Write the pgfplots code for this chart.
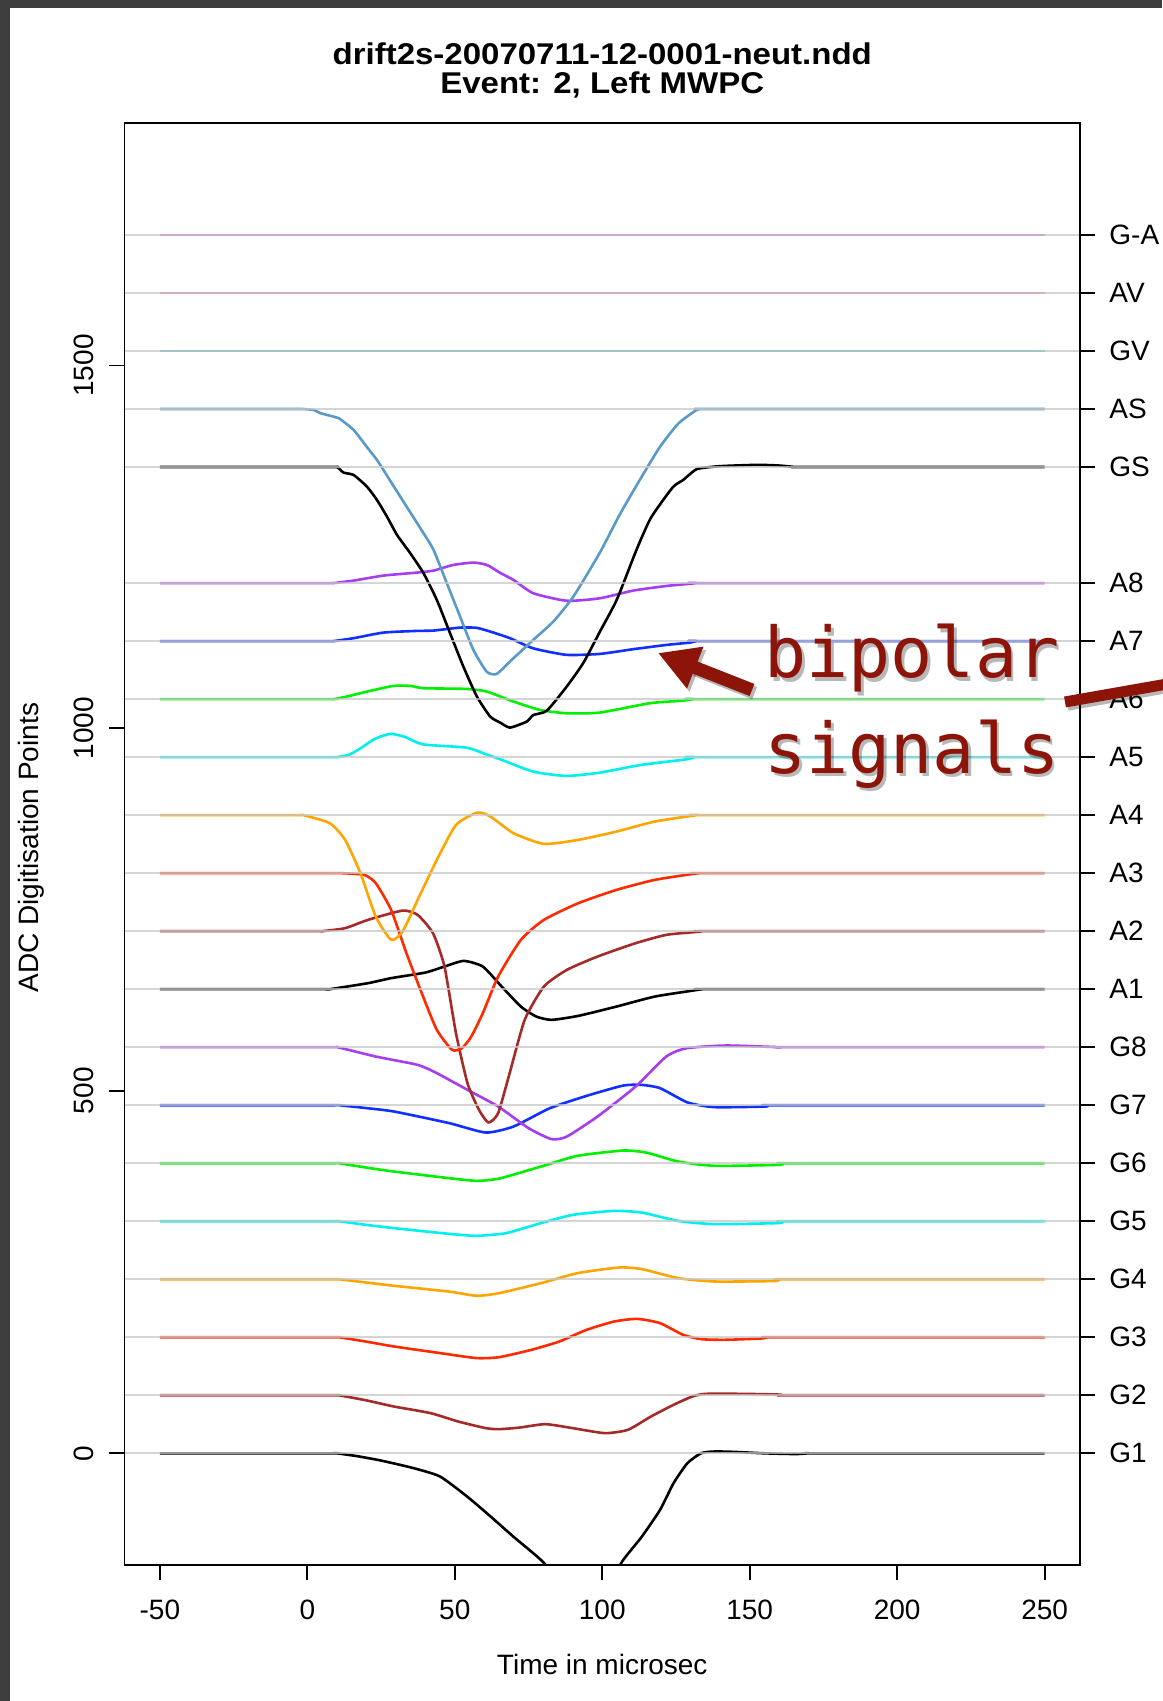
\documentclass[border=0pt]{standalone}
\usepackage{fontspec}
\setmainfont{Liberation Sans}
\newfontfamily\titlefont{Liberation Sans Bold}[FakeStretch=1.1]
\newfontfamily\annfont{DejaVu Sans Mono}
\usepackage{pgfplots}
\pgfplotsset{compat=1.18}
\usetikzlibrary{arrows.meta}
\definecolor{rbrown}{HTML}{A52A2A}
\definecolor{rred}{HTML}{FF2A00}
\definecolor{rorange}{HTML}{FFA500}
\definecolor{rcyan}{HTML}{00F0F0}
\definecolor{rgreen}{HTML}{00F000}
\definecolor{rblue}{HTML}{1030FF}
\definecolor{rpurple}{HTML}{A63DF0}
\definecolor{rsteel}{HTML}{5A9AC8}
\definecolor{rteal}{HTML}{40C0C0}
\definecolor{rpink}{HTML}{F07A7A}
\definecolor{rplum}{HTML}{D060D0}
\definecolor{basegray}{RGB}{200,200,200}
\definecolor{annred}{RGB}{140,20,8}
\definecolor{frame}{RGB}{62,62,62}
\begin{document}
\begin{tikzpicture}
\path[use as bounding box] (0,0) rectangle (581pt,850.5pt);
\fill[frame] (0,0) rectangle (581pt,850.5pt);
\fill[white] (5pt,0) rectangle (581pt,846.5pt);
\begin{axis}[name=main, at={(62.25pt,68pt)}, anchor=south west,
  scale only axis, width=477.75pt, height=720.85pt,
  xmin=-62, xmax=262, ymin=-154, ymax=1834,
  tick pos=left, tick align=outside, major tick length=7.5pt,
  xtick={-50,0,50,100,150,200,250},
  xticklabels={-50,0,50,100,150,200,250},
  ytick={0,500,1000,1500}, yticklabels={0,500,1000,1500},
  ticklabel style={font=\fontsize{14pt}{16pt}\selectfont, inner sep=0pt},
  xticklabel style={anchor=base, yshift=-20pt},
  yticklabel style={xshift=-7.75pt, rotate=90, anchor=base},
  axis line style={line width=0.9pt},
  every tick/.style={black, line width=0.9pt},
  trace/.style={line width=1.3pt, line join=round, smooth, tension=0.35},
  base/.style={basegray, opacity=0.75, line width=1pt},
]
% G1
\addplot[trace, black] coordinates {(-50,0) (7,0) (10,0) (17,-4) (25,-10) (35.6,-20) (45,-32) (54.3,-60) (62.1,-87) (69.9,-115) (79.2,-147) (88,-185) (96,-200) (103,-175) (107.1,-147) (113.4,-115) (119.6,-78) (124.2,-41) (128.9,-13.5) (133.6,0.3) (138.2,2.5) (144.5,2) (155,0) (165.5,-1) (170,0) (173,0) (250,0)};
% G2
\addplot[trace, rbrown] coordinates {(-50,80) (7.7,80) (10.7,80) (20,73) (29.4,64.5) (41.8,55.4) (51.2,43.8) (60.5,34.7) (65.1,33.3) (72,35.5) (80.7,40.2) (90,34.7) (100.9,27.8) (108.7,32.4) (116.5,50.7) (124.2,66.9) (130.5,78.3) (135.1,82) (147.6,82) (160,81) (161,80) (164,80) (250,80)};
% G3
\addplot[trace, rred] coordinates {(-50,160) (7.7,160) (10.7,160) (20,154) (29.4,147.3) (45,138.2) (57.4,131.3) (65.1,132.6) (76,142.7) (85.4,154.1) (94.7,170.3) (104,181.7) (111.8,185.4) (119.6,179.5) (127.4,163.4) (133.6,157.4) (141.4,156.5) (153.8,158.3) (156,160) (159,160) (250,160)};
% G4
\addplot[trace, rorange] coordinates {(-50,240) (7.7,240) (10.7,240) (20,235.5) (29.4,231) (48.1,223) (57.4,217.2) (65.1,220.9) (79.2,234.6) (91.6,248.4) (105.6,256.2) (113.4,254) (125.8,241.5) (138.2,236.9) (158.5,237.6) (160,240) (163,240) (250,240)};
% G5
\addplot[trace, rcyan] coordinates {(-50,320) (7.7,320) (10.7,320) (20,315) (29.4,310.5) (48.1,302.6) (57.4,299.9) (67.4,303.6) (79.2,317.4) (90,328.8) (104,334.3) (113.4,332) (125.8,320.4) (138.2,316) (160,317.5) (161,320) (164,320) (250,320)};
% G6
\addplot[trace, rgreen] coordinates {(-50,400) (7.7,400) (10.7,400) (20,394) (29.4,388.5) (48.1,379.4) (57.4,375.7) (65.1,378.9) (79.2,395.4) (91.6,410.2) (107.1,417.5) (114.9,414.7) (125.8,402.3) (138.2,396.4) (160,397.8) (161,400) (164,400) (250,400)};
% G7
\addplot[trace, rblue] coordinates {(-50,480) (7.7,480) (10.7,480) (20,476) (29.4,471.3) (48.1,455.3) (60.5,442.3) (69.9,450.6) (82.3,476) (94.7,492.9) (107.1,507.1) (113.4,508) (119.6,503.5) (129,483.7) (138.2,477.3) (155.3,478.2) (156,480) (159,480) (250,480)};
% G8
\addplot[trace, rpurple] coordinates {(-50,560) (7.2,560) (10.2,560) (23.2,547.1) (37.4,535.6) (43.9,524.2) (54.3,501.2) (64.7,478.2) (75,448.4) (82.8,433.2) (88,436.8) (98.4,464.4) (111.3,505.7) (121.7,547.1) (128.6,558.6) (142.1,562.3) (160.2,560) (163,560) (250,560)};
% A1
\addplot[trace, black] coordinates {(-50,640) (4.6,640) (7.6,640) (20.6,648.3) (28.4,655.2) (40,662.9) (46.5,671.2) (53,679) (59.5,671.2) (65.9,643.6) (72.4,616) (77.6,602.3) (82.8,597.7) (91.9,603.2) (104.8,616) (117.8,629.8) (130.8,638.1) (134,640) (137,640) (250,640)};
% A2
\addplot[trace, rbrown] coordinates {(-50,720) (2,720) (5,720) (12.8,724.1) (20.6,735.6) (32.3,748.4) (37.4,742.4) (42.6,717.2) (46.5,671.2) (50.4,579.3) (54.3,510.4) (58.2,473.6) (61.4,456.1) (64.7,469) (68.6,524.2) (73.7,597.7) (80.2,643.6) (88,666.6) (98.4,685) (111.3,703.4) (121.7,714.9) (132.1,719) (134,720) (137,720) (250,720)};
% A3
\addplot[trace, rred] coordinates {(-50,800) (8.5,800) (11.5,800) (19.3,797.6) (23.2,786.2) (28.4,749.4) (33.6,689.6) (38.8,634.5) (43.9,583.9) (49.1,556.3) (52.4,558.6) (55.6,574.7) (59.5,606.9) (64.7,657.4) (72.4,708) (80.2,735.6) (91.9,758.6) (104.8,776.9) (117.8,790.7) (130.8,799) (133,800) (136,800) (250,800)};
% A4
\addplot[trace, rorange] coordinates {(-50,880) (-4.4,880) (-1.4,880) (7.6,868.9) (12.8,845.9) (18,800) (23.2,740.1) (28.4,708) (32.3,719.4) (37.4,763.1) (43.9,818.3) (50.4,866.5) (57.6,883.5) (62.1,878) (69.9,855.1) (80.2,840.3) (91.9,845.9) (104.8,857.3) (117.8,871.1) (132.1,880) (135,880) (250,880)};
% A5
\addplot[trace, rcyan] coordinates {(-50,960) (7,960) (10,960) (14,963) (18,972) (22.8,985) (28.1,992) (33,988) (39.3,977.5) (54,973) (61.4,962.6) (65.4,957) (76.6,940) (87.9,934) (99.2,938.6) (112.8,949) (128.6,957) (131.3,960) (134,960) (250,960)};
% A6
\addplot[trace, rgreen] coordinates {(-50,1040) (5.9,1040) (8.9,1040) (13.4,1043.5) (20.2,1050.3) (29.2,1058.2) (34.9,1058.2) (39.4,1055) (54.1,1054) (60.9,1050.3) (69.9,1036.6) (78.9,1025) (87.9,1020.5) (99.2,1021.4) (116.1,1034.3) (127.4,1037.9) (131,1040) (134,1040) (250,1040)};
% A7
\addplot[trace, rblue] coordinates {(-50,1120) (5.9,1120) (8.9,1120) (15.7,1124) (25.8,1131.7) (37.1,1134) (42.8,1134.5) (51.8,1138.6) (57.5,1138.2) (63.1,1131.7) (68.7,1124) (76.6,1110) (87.9,1101) (99.2,1102.3) (110.5,1108.8) (121.8,1114.7) (129.7,1117.9) (132,1120) (135,1120) (250,1120)};
% A8
\addplot[trace, rpurple] coordinates {(-50,1200) (5.9,1200) (8.9,1200) (15.7,1203.4) (25.8,1210.3) (37.1,1214.4) (42.8,1217.2) (49.5,1225) (56.3,1228.2) (60.9,1225) (65.4,1214) (69.9,1204.3) (76.6,1186) (87.9,1175.6) (99.2,1179) (110.5,1189.6) (121.8,1196) (129.7,1199) (132,1200) (135,1200) (250,1200)};
% GS
\addplot[trace, black] coordinates {(-50,1360) (7,1360) (10,1360) (12.3,1352.3) (15.7,1349) (20.2,1333) (23.6,1314.6) (27,1291.6) (30.4,1266.4) (34.9,1241.1) (39.4,1213.6) (43.9,1176.8) (48.4,1130.8) (52.9,1084.8) (57.5,1043.5) (62,1015.9) (65.4,1007.6) (68.7,1000.7) (74.4,1009) (76.6,1018) (81.2,1024) (87.9,1057) (93.6,1090) (99.2,1133) (104.9,1176.8) (111.6,1245.7) (116.5,1290) (123.9,1332) (127.4,1342) (132,1357) (138.6,1360.8) (144.5,1362) (153,1363) (160.2,1362) (165.5,1360) (168.5,1360) (250,1360)};
% AS
\addplot[trace, rsteel] coordinates {(-50,1440) (-4.7,1440) (-1.7,1440) (2.1,1438.7) (4.5,1434.2) (8.9,1429.5) (10.7,1427.3) (15.7,1411.1) (20.1,1388.1) (23.6,1369.8) (27.5,1345) (31.5,1319.2) (39.4,1268.7) (42.8,1245.7) (47.3,1199.8) (51.8,1153.7) (56.3,1107.8) (60.8,1077.9) (64.2,1074.7) (69.9,1096.4) (76.6,1121.6) (83.4,1146.9) (90.2,1181.3) (99.2,1242) (106,1295) (113.4,1346.8) (119.6,1388) (125.8,1420) (132,1438.7) (134,1440) (137,1440) (250,1440)};
% GV, AV, G-A
\addplot[trace, rteal] coordinates {(-50,1520) (250,1520)};
\addplot[trace, rpink] coordinates {(-50,1600) (250,1600)};
\addplot[trace, rplum] coordinates {(-50,1680) (250,1680)};
% baselines
\pgfplotsinvokeforeach{0,80,160,240,320,400,480,560,640,720,800,880,960,1040,1120,1200,1360,1440,1520,1600,1680}{
  \addplot[base] coordinates {(-62,#1) (262,#1)};
}
\end{axis}
\begin{axis}[at={(62.25pt,68pt)}, anchor=south west,
  scale only axis, width=477.75pt, height=720.85pt,
  xmin=-62, xmax=262, ymin=-154, ymax=1834,
  axis x line=none, axis y line*=right,
  tick align=outside, major tick length=7.5pt,
  ytick={0,80,160,240,320,400,480,560,640,720,800,880,960,1040,1120,1200,1360,1440,1520,1600,1680},
  yticklabels={G1,G2,G3,G4,G5,G6,G7,G8,A1,A2,A3,A4,A5,A6,A7,A8,GS,AS,GV,AV,G-A},
  yticklabel style={font=\fontsize{14pt}{16pt}\selectfont, inner sep=0pt, anchor=west, xshift=7pt},
  axis line style={line width=0.9pt},
  every tick/.style={black, line width=0.9pt},
]
\end{axis}
% titles and labels
\node[anchor=base, inner sep=0pt, font=\titlefont\fontsize{15pt}{18pt}\selectfont] at ([yshift=29.15pt]main.north) {drift2s-20070711-12-0001-neut.ndd};
\node[anchor=base, inner sep=0pt, font=\titlefont\fontsize{15pt}{18pt}\selectfont] at ([yshift=15pt]main.north) {Event: 2, Left MWPC};
\node[anchor=base, inner sep=0pt, font=\fontsize{14pt}{16pt}\selectfont] at ([yshift=-55pt]main.south) {Time in microsec};
\node[anchor=base, rotate=90, inner sep=0pt, font=\fontsize{14pt}{16pt}\selectfont] at ([xshift=-43.25pt,yshift=-1.75pt]main.west) {ADC Digitisation Points};
% annotation
\begin{scope}[shift={(1.3pt,-1.6pt)}, opacity=0.28]
  \draw[black, line width=6.5pt, -{Triangle[length=20pt,width=21pt]}] (376pt,505.5pt) -- (329pt,524pt);
  \draw[black, line width=5.5pt] (532.5pt,499.5pt) -- (595pt,510.5pt);
  \node[anchor=base west, inner sep=0pt, text=black, font=\annfont\fontsize{35pt}{40pt}\selectfont] at (382pt,511.5pt) {bipolar};
  \node[anchor=base west, inner sep=0pt, text=black, font=\annfont\fontsize{35pt}{40pt}\selectfont] at (382pt,463.85pt) {signals};
\end{scope}
\draw[annred, line width=6.5pt, -{Triangle[length=20pt,width=21pt]}] (376pt,505.5pt) -- (329pt,524pt);
\draw[annred, line width=5.5pt] (532.5pt,499.5pt) -- (595pt,510.5pt);
\node[anchor=base west, inner sep=0pt, text=annred, font=\annfont\fontsize{35pt}{40pt}\selectfont] at (382pt,511.5pt) {bipolar};
\node[anchor=base west, inner sep=0pt, text=annred, font=\annfont\fontsize{35pt}{40pt}\selectfont] at (382pt,463.85pt) {signals};
\end{tikzpicture}
\end{document}
